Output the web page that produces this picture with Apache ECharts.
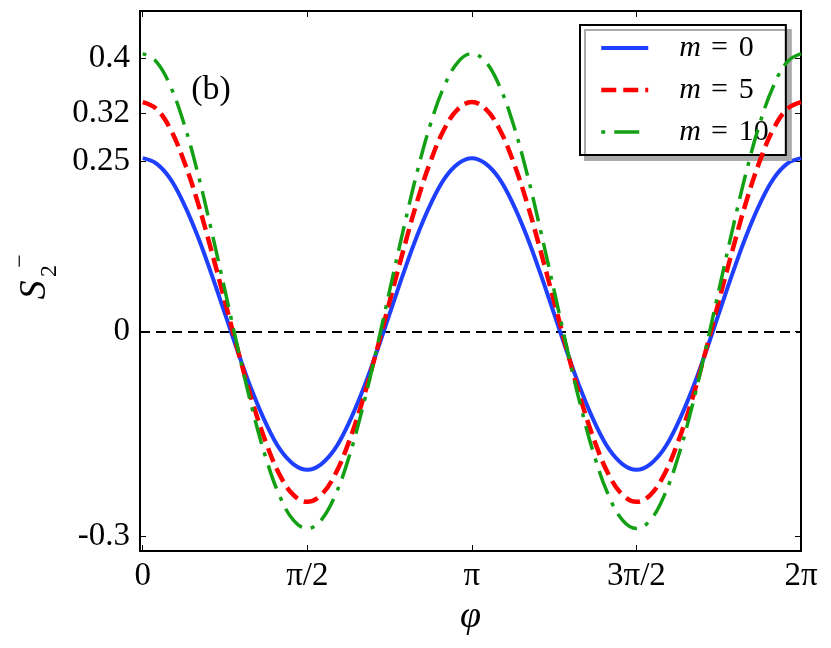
<!DOCTYPE html>
<html>
<head>
<meta charset="utf-8">
<script src="https://cdn.jsdelivr.net/npm/echarts@6/dist/echarts.min.js"></script>
<style>html,body{margin:0;padding:0;background:#fff}#c{width:831px;height:648px}</style>
</head>
<body>
<div id="c"></div>
<script>
// phi in degrees (axis labels shown in units of pi)
const phiDeg = [0,7.5,15,22.5,30,37.5,45,52.5,60,67.5,75,82.5,90,97.5,105,112.5,120,127.5,135,142.5,150,157.5,165,172.5,180,
  187.5,195,202.5,210,217.5,225,232.5,240,247.5,255,262.5,270,277.5,285,292.5,300,307.5,315,322.5,330,337.5,345,352.5,360];
const m0 = [0.254,0.246,0.224,0.187,0.140,0.085,0.026,-0.033,-0.088,-0.135,-0.172,-0.194,-0.202,
  -0.194,-0.172,-0.135,-0.088,-0.033,0.026,0.085,0.140,0.187,0.224,0.246,0.254,
  0.246,0.224,0.187,0.140,0.085,0.026,-0.033,-0.088,-0.135,-0.172,-0.194,-0.202,
  -0.194,-0.172,-0.135,-0.088,-0.033,0.026,0.085,0.140,0.187,0.224,0.246,0.254];
const m5 = [0.336,0.326,0.297,0.250,0.190,0.119,0.044,-0.032,-0.103,-0.163,-0.210,-0.239,-0.249,
  -0.239,-0.210,-0.163,-0.103,-0.032,0.044,0.119,0.190,0.250,0.297,0.326,0.336,
  0.326,0.297,0.250,0.190,0.119,0.044,-0.032,-0.103,-0.163,-0.210,-0.239,-0.249,
  -0.239,-0.210,-0.163,-0.103,-0.032,0.044,0.119,0.190,0.250,0.297,0.326,0.336];
const m10 = [0.407,0.395,0.360,0.305,0.233,0.149,0.060,-0.030,-0.114,-0.186,-0.241,-0.276,-0.288,
  -0.276,-0.241,-0.186,-0.114,-0.030,0.060,0.149,0.233,0.305,0.360,0.395,0.407,
  0.395,0.360,0.305,0.233,0.149,0.060,-0.030,-0.114,-0.186,-0.241,-0.276,-0.288,
  -0.276,-0.241,-0.186,-0.114,-0.030,0.060,0.149,0.233,0.305,0.360,0.395,0.407];
const seriesNames = ['m = 0','m = 5','m = 10'];
const xTickValues = [0,90,180,270,360];
const xTickLabels = ['0','π/2','π','3π/2','2π'];
const yTickValues = [-0.3,0,0.25,0.32,0.4];
const yTickLabels = ['-0.3','0','0.25','0.32','0.4'];

const FONT = 'Liberation Serif';
const chart = echarts.init(document.getElementById('c'));
const pairs = arr => phiDeg.map((p,i)=>[p, arr[i]]);
const xMin = -1.5, xMax = 360, yMin = -0.3209, yMax = 0.4693;

const tickStyle = {show:true, inside:true, length:6, lineStyle:{color:'#000', width:1}};
const noLine = {show:false, onZero:false};

chart.setOption({
  animation:false,
  backgroundColor:'#fff',
  grid:{left:140, right:30, top:11, bottom:97, show:true, borderColor:'#000', borderWidth:2, backgroundColor:'transparent'},
  xAxis:[{
    type:'value', min:xMin, max:xMax, position:'bottom',
    axisLine:noLine, splitLine:{show:false},
    axisTick:Object.assign({customValues:xTickValues}, tickStyle),
    axisLabel:{customValues:xTickValues, margin:9, color:'#000', fontFamily:FONT, fontSize:33,
      formatter:v=>{const i=xTickValues.indexOf(v);return i>=0?xTickLabels[i]:'';}},
    name:'φ', nameLocation:'middle', nameGap:44,
    nameTextStyle:{fontFamily:FONT, fontSize:38, fontStyle:'italic', color:'#000'}
  },{
    type:'value', min:xMin, max:xMax, position:'top',
    axisLine:noLine, splitLine:{show:false},
    axisTick:Object.assign({customValues:xTickValues}, tickStyle),
    axisLabel:{show:false}
  }],
  yAxis:[{
    type:'value', min:yMin, max:yMax, position:'left',
    axisLine:noLine, splitLine:{show:false},
    axisTick:Object.assign({customValues:yTickValues}, tickStyle),
    axisLabel:{customValues:yTickValues, margin:10, color:'#000', fontFamily:FONT, fontSize:33,
      formatter:v=>{const i=yTickValues.findIndex(t=>Math.abs(t-v)<1e-9);return i>=0?yTickLabels[i]:'';}}
  },{
    type:'value', min:yMin, max:yMax, position:'right',
    axisLine:noLine, splitLine:{show:false},
    axisTick:Object.assign({customValues:yTickValues}, tickStyle),
    axisLabel:{show:false}
  }],
  legend:{
    left:580, top:25, orient:'vertical',
    padding:[8,17,8,19], itemGap:12, itemWidth:47, itemHeight:16,
    backgroundColor:'#fff', borderColor:'#000', borderWidth:2,
    shadowColor:'#aaaaaa', shadowBlur:0, shadowOffsetX:5, shadowOffsetY:5,
    itemStyle:{color:'rgba(0,0,0,0)', borderWidth:0, opacity:0},
    lineStyle:{width:'inherit', type:'inherit'},
    data:seriesNames,
    formatter:name=>'{m|m}{e|=}{n|'+name.split('= ')[1]+'}',
    textStyle:{color:'#000', fontFamily:FONT, fontSize:28,
      rich:{
        m:{fontFamily:FONT, fontSize:30, fontStyle:'italic', color:'#000', padding:[0,10,0,26], lineHeight:30},
        e:{fontFamily:FONT, fontSize:30, color:'#000', padding:[0,11,0,0], lineHeight:30},
        n:{fontFamily:FONT, fontSize:30, color:'#000', lineHeight:30}
      }}
  },
  series:[
    {name:seriesNames[0], type:'line', data:pairs(m0), smooth:0.4, symbol:'none', z:3,
      lineStyle:{color:'#1f3fff', width:4}, itemStyle:{color:'#1f3fff'},
      markLine:{silent:true, symbol:'none', label:{show:false}, z:1,
        lineStyle:{color:'#000', type:[10,6], width:2}, data:[{yAxis:0}]}},
    {name:seriesNames[1], type:'line', data:pairs(m5), smooth:0.4, symbol:'none', z:4,
      lineStyle:{color:'#ff0000', width:4.5, type:[15,7]}, itemStyle:{color:'#ff0000'}},
    {name:seriesNames[2], type:'line', data:pairs(m10), smooth:0.4, symbol:'none', z:5,
      lineStyle:{color:'#14a014', width:3.5, type:[4,9,25,9]}, itemStyle:{color:'#14a014'}}
  ],
  graphic:[
    {type:'text', x:211, y:90, style:{text:'(b)', font:'34px "Liberation Serif"', fill:'#000',
      align:'center', verticalAlign:'middle', textAlign:'center', textVerticalAlign:'middle'}},
    {type:'group', x:35, y:290, rotation:Math.PI/2, children:[
      {type:'text', x:0, y:0, style:{text:'S', font:'italic 38px "Liberation Serif"', fill:'#000',
        align:'center', verticalAlign:'middle', textAlign:'center', textVerticalAlign:'middle'}},
      {type:'text', x:19, y:15, style:{text:'2', font:'24px "Liberation Serif"', fill:'#000',
        align:'center', verticalAlign:'middle', textAlign:'center', textVerticalAlign:'middle'}},
      {type:'text', x:29, y:-14, style:{text:'−', font:'24px "Liberation Serif"', fill:'#000',
        align:'center', verticalAlign:'middle', textAlign:'center', textVerticalAlign:'middle'}}
    ]}
  ]
});
</script>
</body>
</html>
